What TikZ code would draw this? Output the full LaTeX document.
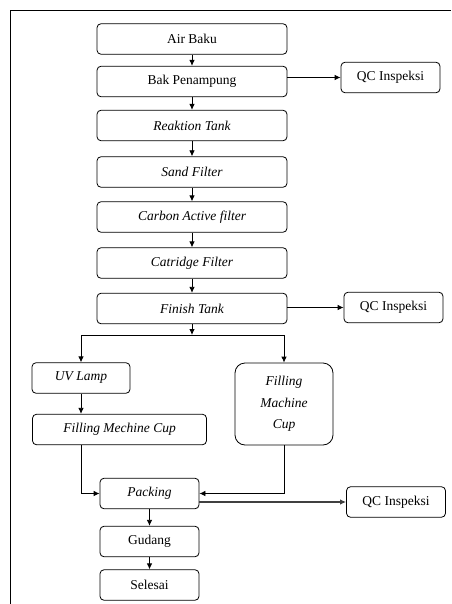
\documentclass[tikz,border=0pt]{standalone}
\usepackage{fontspec}
\setmainfont{Liberation Serif}
\usetikzlibrary{arrows.meta}
\tikzset{
  box/.style={draw, line width=0.8pt, rounded corners=4pt, minimum height=30.5pt, inner sep=1pt, align=center,
     font=\fontsize{13.5}{16}\selectfont},
  mainbox/.style={box, minimum width=190pt},
  smallbox/.style={box, minimum width=99pt},
  arr/.style={line width=0.8pt, -{Latex[length=6pt,width=5.5pt]}},
}
\begin{document}
\begin{tikzpicture}[x=1pt,y=-1pt]
\useasboundingbox (0,0) rectangle (451,604);
\draw[line width=0.8pt] (10,604) -- (10,10) -- (451,10);

\node[mainbox] (air) at (192,39) {Air Baku};
\node[mainbox] (bak) at (192,81.5) {Bak Penampung};
\node[mainbox] (rt)  at (192,125.5) {\itshape Reaktion Tank};
\node[mainbox] (sf)  at (192,172) {\itshape Sand Filter};
\node[mainbox] (ca)  at (192,217) {\itshape Carbon Active filter};
\node[mainbox] (cf)  at (192,263) {\itshape Catridge Filter};
\node[mainbox] (ft)  at (192,308.5) {\itshape Finish Tank};

\node[smallbox] (qc1) at (390.5,77.5) {QC Inspeksi};
\node[smallbox] (qc2) at (393.5,307.5) {QC Inspeksi};
\node[smallbox] (qc3) at (396,502) {QC Inspeksi};

\node[smallbox, minimum width=98pt] (uv) at (81,378) {\itshape UV Lamp};
\node[box, minimum width=174pt] (fmc) at (119.5,429.5) {\itshape Filling Mechine Cup};
\node[box, minimum width=98pt, minimum height=82pt, rounded corners=10pt,
      font=\fontsize{13.5}{21.5}\selectfont\itshape] (fm) at (284,404) {Filling\\Machine\\Cup};

\node[smallbox] (pk) at (149.5,493.5) {\itshape Packing};
\node[smallbox] (gd) at (149.5,541.5) {Gudang};
\node[smallbox] (sl) at (149.5,585) {Selesai};

\coordinate (br) at (192,335);

\draw[arr] (air) -- (bak);
\draw[arr] (bak) -- (rt);
\draw[arr] (rt) -- (sf);
\draw[arr] (sf) -- (ca);
\draw[arr] (ca) -- (cf);
\draw[arr] (cf) -- (ft);
\draw[arr] (ft) -- (br);
\draw[arr] (bak.east |- qc1.west) -- (qc1.west);
\draw[arr] (ft.east |- qc2.west) -- (qc2.west);
\draw[arr] (br) -| (uv.north);
\draw[arr] (br) -| (fm.north);
\draw[arr] (uv) -- (uv.south |- fmc.north);
\draw[arr] (fmc.south -| uv.south) |- (pk.west);
\draw[arr] (fm.south) |- (pk.east);
\draw[arr, line width=1.3pt, draw=black!75] (pk.east |- qc3.west) -- (qc3.west);
\draw[arr] (pk) -- (gd);
\draw[arr] (gd) -- (sl);
\end{tikzpicture}
\end{document}
